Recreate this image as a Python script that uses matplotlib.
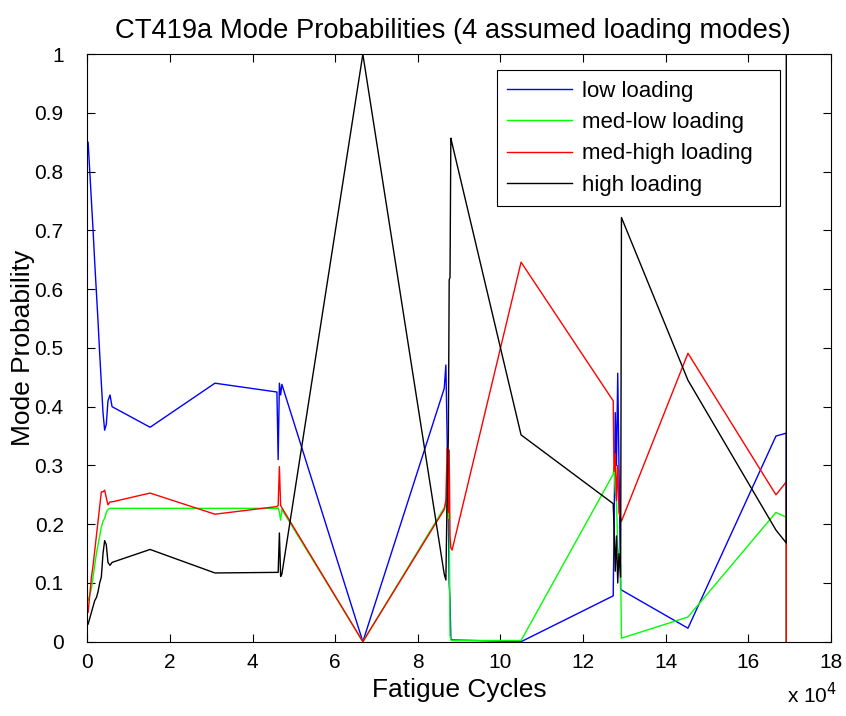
import matplotlib
matplotlib.use("Agg")
import matplotlib.pyplot as plt

# Fatigue cycles (units of 1e4 cycles), shared by all four modes
cycles = [0.02, 0.06, 0.10, 0.14, 0.18, 0.22, 0.26, 0.30, 0.34, 0.38, 0.42, 0.46, 0.50, 0.55, 0.60,
          1.52, 3.09, 4.59, 4.62, 4.65, 4.68, 4.71,
          6.67,
          8.64, 8.68, 8.71, 8.74, 8.76, 8.78, 8.80, 8.83,
          10.50,
          12.73, 12.75, 12.78, 12.81, 12.84, 12.87, 12.91, 12.93,
          14.54, 16.67, 16.92, 16.92]

low_loading = [0.85, 0.80, 0.75, 0.70, 0.645, 0.595, 0.545, 0.49, 0.44, 0.39, 0.36, 0.37, 0.41, 0.42, 0.40,
               0.365, 0.44, 0.425, 0.31, 0.44, 0.42, 0.438,
               0.0,
               0.431, 0.471, 0.35, 0.22, 0.10, 0.07, 0.005, 0.003,
               0.0,
               0.078, 0.185, 0.39, 0.30, 0.457, 0.30, 0.09, 0.088,
               0.023, 0.35, 0.355, 0.0]

med_low_loading = [0.07, 0.08, 0.09, 0.11, 0.13, 0.15, 0.165, 0.18, 0.195, 0.205, 0.21, 0.22, 0.225, 0.227, 0.227,
                   0.227, 0.227, 0.227, 0.228, 0.22, 0.207, 0.225,
                   0.0,
                   0.228, 0.235, 0.22, 0.21, 0.23, 0.01, 0.003, 0.002,
                   0.002,
                   0.285, 0.298, 0.255, 0.24, 0.16, 0.15, 0.13, 0.006,
                   0.042, 0.22, 0.212, 0.0]

med_high_loading = [0.05, 0.08, 0.11, 0.13, 0.155, 0.18, 0.205, 0.23, 0.255, 0.255, 0.258, 0.245, 0.233, 0.238, 0.238,
                    0.253, 0.217, 0.230, 0.232, 0.298, 0.232, 0.228,
                    0.0,
                    0.225, 0.241, 0.33, 0.22, 0.326, 0.18, 0.16, 0.156,
                    0.646,
                    0.41, 0.29, 0.32, 0.24, 0.30, 0.22, 0.21, 0.205,
                    0.491, 0.25, 0.272, 0.0]

high_loading = [0.03, 0.04, 0.05, 0.06, 0.07, 0.075, 0.085, 0.10, 0.11, 0.15, 0.172, 0.165, 0.135, 0.13, 0.135,
                0.157, 0.117, 0.118, 0.118, 0.185, 0.111, 0.115,
                1.0,
                0.115, 0.105, 0.25, 0.35, 0.616, 0.62, 0.857, 0.848,
                0.352,
                0.235, 0.196, 0.12, 0.18, 0.10, 0.15, 0.11, 0.722,
                0.445, 0.19, 0.168, 1.0]

series = [("low loading", low_loading, "#0000ff"),
          ("med-low loading", med_low_loading, "#00ff00"),
          ("med-high loading", med_high_loading, "#ff0000"),
          ("high loading", high_loading, "#000000")]

xticks = list(range(0, 19, 2))
yticks = [i / 10 for i in range(11)]
ytick_labels = ["0", "0.1", "0.2", "0.3", "0.4", "0.5", "0.6", "0.7", "0.8", "0.9", "1"]

plt.rcParams['font.family'] = ['Liberation Sans', 'DejaVu Sans']

fig = plt.figure(figsize=(8.46, 7.16), dpi=100)
ax = fig.add_axes([87.3 / 846, 1 - 641.7 / 716, (830.9 - 87.3) / 846, (641.7 - 54.2) / 716])

for name, vals, col in series:
    ax.plot(cycles, vals, color=col, lw=1.0, label=name)

ax.set_xlim(0, 18)
ax.set_ylim(0, 1)
ax.set_xticks(xticks)
ax.set_xticklabels([str(t) for t in xticks])
ax.set_yticks(yticks)
ax.set_yticklabels(ytick_labels)
ax.tick_params(direction='in', length=6, width=0.8, top=True, right=True,
               labelsize=15, colors='black')
ax.tick_params(axis='x', pad=8)
ax.tick_params(axis='y', pad=17)
for s in ax.spines.values():
    s.set_linewidth(0.8)
    s.set_color('black')

ax.set_title("CT419a Mode Probabilities (4 assumed loading modes)", fontsize=19.7, pad=12, x=0.492)
ax.set_xlabel("Fatigue Cycles", fontsize=19, labelpad=4.5)
ax.set_ylabel("Mode Probability", fontsize=19, labelpad=-0.5)

fig.text(837 / 846, 1 - 695 / 716, r"x 10$^{4}$", ha='right', va='center', fontsize=15)

leg_x0 = (497 - 87.3) / 743.6
leg_w = (780 - 497) / 743.6
leg = ax.legend(loc='upper left', bbox_to_anchor=(leg_x0, 0.5, leg_w, 0.973 - 0.5),
                mode='expand', borderaxespad=0,
                fancybox=False, framealpha=1, edgecolor='black', fontsize=16,
                handlelength=2.9, handletextpad=0.45, labelspacing=0.47, borderpad=0.47)
leg.get_frame().set_linewidth(0.8)

fig.savefig("out.png", dpi=100)
